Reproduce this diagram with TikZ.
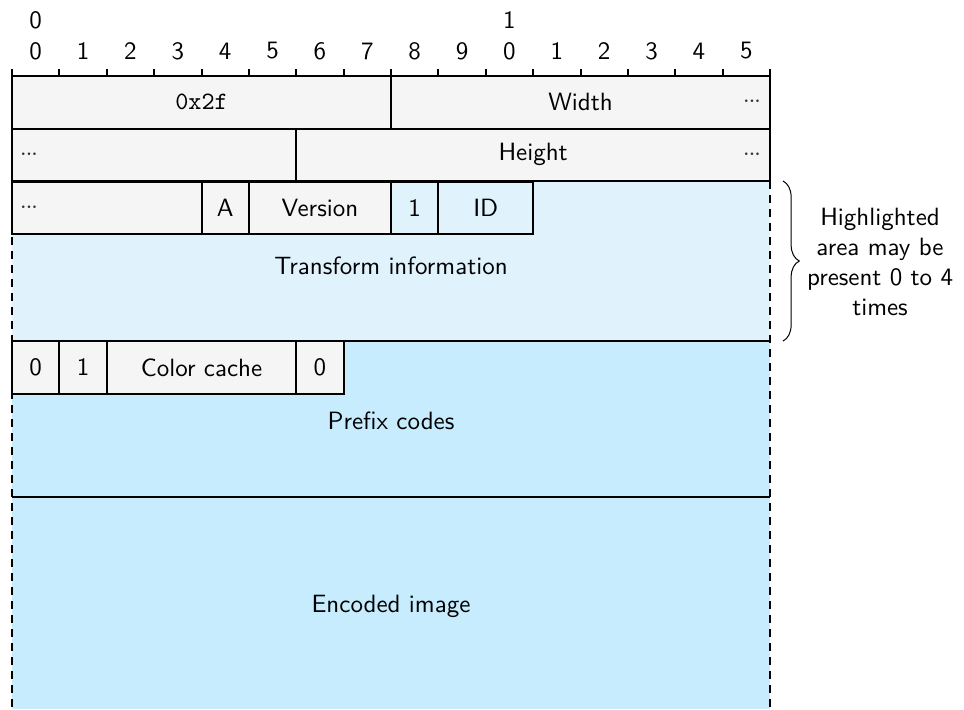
\documentclass[tikz,border=0pt]{standalone}
\usetikzlibrary{decorations.pathreplacing}
\renewcommand{\familydefault}{\sfdefault}

\newlength{\du}
\setlength{\du}{0.4pt}

\newcommand{\moredots}{${\cdotp}\mkern-1mu{\cdotp}\mkern-1mu{\cdotp}$}

\definecolor{fieldgray}{RGB}{245,245,245}
\definecolor{loopblue}{RGB}{224,243,253}
\definecolor{codeblue}{RGB}{198,236,253}

\tikzset{
  field/.style={draw, line width=0.8pt, fill=fieldgray, inner sep=0pt,
    minimum height=52.5\du},
  loopfield/.style={field, fill=loopblue},
  more/.style={inner sep=0pt, text=black!80},
  tick/.style={line width=0.8pt},
  optside/.style={line width=0.8pt, dash pattern=on 3.2pt off 2.4pt},
  solidline/.style={line width=0.8pt},
}

\begin{document}
\begin{tikzpicture}[x=\du, y=-\du]
\useasboundingbox (0,0) rectangle (964,709);

% bit ruler
\foreach \i in {0,...,16}
  \draw[tick] ({12+\i*47.375},76) -- ({12+\i*47.375},69);
\foreach \i in {0,...,15}{
  \pgfmathtruncatemacro{\d}{mod(\i,10)}
  \node (bit\i) at ({35.69+\i*47.375},51) {\d};
}
\node (ten0) at (35.69,20) {0};
\node (ten1) at (509.44,20) {1};

% optional (repeated) area and the image data
\fill[loopblue] (12,181) rectangle (770,341);
\fill[codeblue] (12,341) rectangle (770,709);
\draw[optside] (12,181) -- (12,709);
\draw[optside] (770,181) -- (770,709);
\draw[solidline] (12,341) -- (770,341);
\draw[solidline] (12,497) -- (770,497);

% header row 1
\node[field, minimum width=379\du] (magic) at (201.5,102.25) {\ttfamily 0x2f};
\node[field, minimum width=379\du] (width) at (580.5,102.25) {Width};
\node[more] (wmore) at (752,102.25) {\moredots};

% header row 2
\node[field, minimum width=284.25\du] (hmore) at (154.125,154.75) {};
\node[more] (hleft) at (29,154.75) {\moredots};
\node[field, minimum width=473.75\du] (height) at (533.125,154.75) {Height};
\node[more] (hright) at (752,154.75) {\moredots};

% header row 3
\node[field, minimum width=189.5\du] (amore) at (106.75,208) {};
\node[more] (aleft) at (29,208) {\moredots};
\node[field, minimum width=47.375\du] (alpha) at (225.19,208) {A};
\node[field, minimum width=142.125\du] (version) at (319.94,208) {Version};
\node[loopfield, minimum width=47.375\du] (tbit) at (414.69,208) {1};
\node[loopfield, minimum width=94.75\du] (tid) at (485.75,208) {ID};
\node (tinfo) at (391,266) {Transform information};

% color cache and prefix codes
\node[field, minimum width=47.375\du] (cbit) at (35.69,367.5) {0};
\node[field, minimum width=47.375\du] (cflag) at (83.06,367.5) {1};
\node[field, minimum width=189.5\du] (ccache) at (201.5,367.5) {Color cache};
\node[field, minimum width=47.375\du] (mbit) at (319.94,367.5) {0};
\node (pcodes) at (391,421) {Prefix codes};

\node (eimage) at (391,606) {Encoded image};

% brace and note
\coordinate (btop) at (783,181);
\coordinate (bbot) at (783,341);
\draw[decorate, decoration={brace, amplitude=6.5pt}] (btop) -- (bbot);
\node[align=center] (note) at (880,262) {Highlighted\\area may be\\present 0 to 4\\times};
\end{tikzpicture}
\end{document}
